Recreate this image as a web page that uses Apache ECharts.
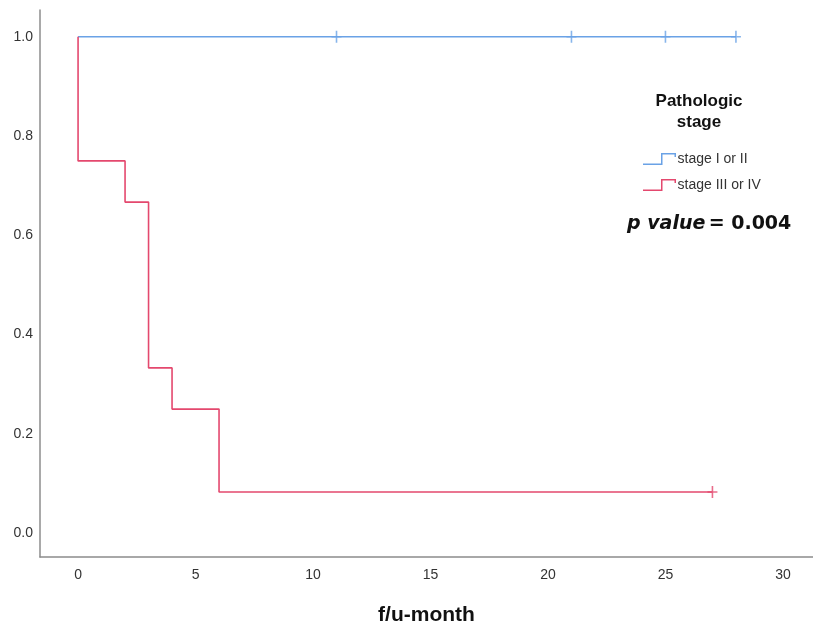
<!DOCTYPE html>
<html><head><meta charset="utf-8">
<script src="https://cdn.jsdelivr.net/npm/echarts@6/dist/echarts.min.js"></script>
<style>html,body{margin:0;padding:0;background:#fff}#c{width:813px;height:631px}</style>
</head><body><div id="c"></div>
<script>
const seriesNames = ['stage I or II', 'stage III or IV'];
const blueTimes = [0, 28];
const blueSurv = [1.0, 1.0];
const blueCensorTimes = [11, 21, 25, 28];
const blueCensorSurv = [1.0, 1.0, 1.0, 1.0];
const redTimes = [0, 0, 2, 3, 4, 6, 27];
const redSurv = [1.0, 0.75, 0.667, 0.333, 0.25, 0.083, 0.083];
const redCensorTimes = [27];
const redCensorSurv = [0.083];
const xTicks = [0, 5, 10, 15, 20, 25, 30];
const yTicks = [0.0, 0.2, 0.4, 0.6, 0.8, 1.0];

const blue = '#6aa2e6';
const red = '#e4486e';
const pair = (a, b) => a.map((v, i) => [v, b[i]]);
const plus = 'path://M4.2,0h1.6v5.2h4.2v1.6h-4.2v5.2h-1.6v-5.2h-4.2v-1.6h4.2z';
const stepIcon = 'path://M0,10.5L18,10.5L18,0L33,0L33,4L31.5,4L31.5,1.5L19.5,1.5L19.5,12L0,12Z';

const chart = echarts.init(document.getElementById('c'), null, {renderer: 'canvas'});
chart.setOption({
  animation: false,
  textStyle: {fontFamily: 'Liberation Sans, Arial, sans-serif'},
  grid: {left: 40, right: 0, top: 10, bottom: 72, containLabel: false},
  xAxis: {
    type: 'value', min: -1.62, max: 31.28,
    name: 'f/u-month', nameLocation: 'middle', nameGap: 48,
    nameTextStyle: {fontSize: 21, fontWeight: 'bold', color: '#111'},
    axisLine: {show: true, onZero: false, lineStyle: {color: '#8c8c8c', width: 1.5}},
    axisTick: {show: false},
    splitLine: {show: false},
    axisLabel: {customValues: xTicks, color: '#333', fontSize: 14, margin: 11}
  },
  yAxis: {
    type: 'value', min: -0.048, max: 1.054,
    axisLine: {show: true, onZero: false, lineStyle: {color: '#8c8c8c', width: 1.5}},
    axisTick: {show: false},
    splitLine: {show: false},
    axisLabel: {customValues: yTicks, color: '#333', fontSize: 14, margin: 7,
      formatter: v => v.toFixed(1)}
  },
  legend: {
    left: 638, top: 147, orient: 'vertical', itemGap: 12,
    itemWidth: 34, itemHeight: 12, selectedMode: false,
    textStyle: {fontSize: 14, color: '#333', padding: [0, 0, 0, -4]},
    data: [
      {name: seriesNames[0], icon: stepIcon, itemStyle: {color: blue}},
      {name: seriesNames[1], icon: stepIcon, itemStyle: {color: red}}
    ]
  },
  graphic: [
    {type: 'text', style: {text: 'Pathologic\nstage', x: 699, y: 91, align: 'center',
      font: 'bold 17px "Liberation Sans", Arial, sans-serif', fill: '#111', lineHeight: 21}},
    {type: 'text', style: {x: 627, y: 215,
      text: '{i|p value} {b|= 0.004}',
      rich: {
        i: {font: 'italic bold 19px "DejaVu Sans", Verdana, sans-serif', fill: '#111'},
        b: {font: 'bold 19px "DejaVu Sans", Verdana, sans-serif', fill: '#111'}
      }}}
  ],
  series: [
    {name: seriesNames[0], type: 'line', step: 'end', data: pair(blueTimes, blueSurv),
      showSymbol: false, symbol: 'none', lineStyle: {color: blue, width: 1.6}, itemStyle: {color: blue}},
    {name: seriesNames[1], type: 'line', step: 'end', data: pair(redTimes, redSurv),
      showSymbol: false, symbol: 'none', lineStyle: {color: red, width: 1.6}, itemStyle: {color: red}},
    {name: seriesNames[0], type: 'scatter', data: pair(blueCensorTimes, blueCensorSurv),
      symbol: plus, symbolSize: [10, 12], itemStyle: {color: blue}},
    {name: seriesNames[1], type: 'scatter', data: pair(redCensorTimes, redCensorSurv),
      symbol: plus, symbolSize: [10, 12], itemStyle: {color: red}}
  ]
});
</script></body></html>
